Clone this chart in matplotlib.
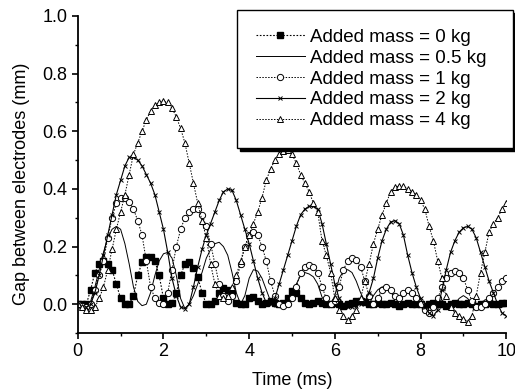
import numpy as np
import matplotlib
matplotlib.use('Agg')
import matplotlib.pyplot as plt
from matplotlib.ticker import MultipleLocator

plt.rcParams['font.family'] = ['Liberation Sans', 'DejaVu Sans']

# sampling time (ms), 0.1 ms step
time_ms = np.round(np.arange(101) * 0.1, 1)

gap_0kg = [0.0, 0.0, 0.0, 0.05, 0.11, 0.14, 0.15, 0.14, 0.12, 0.07,
           0.02, 0.0, 0.0, 0.03, 0.10, 0.145, 0.165, 0.165, 0.15, 0.10,
           0.02, 0.0, 0.005, 0.04, 0.10, 0.14, 0.145, 0.125, 0.095, 0.04,
           0.0, 0.0, 0.01, 0.04, 0.055, 0.05, 0.04, 0.005, 0.0, 0.0,
           0.02, 0.025, 0.01, 0.0, 0.005, 0.01, 0.005, 0.0, 0.005, 0.02,
           0.045, 0.04, 0.02, 0.005, 0.0, 0.005, 0.01, 0.005, 0.0, 0.0,
           0.005, 0.0, -0.005, 0.0, 0.005, 0.01, 0.012, 0.008, 0.0, 0.0,
           0.005, 0.0, 0.0, 0.005, 0.0, -0.005, 0.0, 0.005, 0.0, 0.0,
           0.0, -0.005, 0.0, 0.005, 0.0, 0.0, -0.005, 0.0, 0.005, 0.0,
           0.0, 0.005, 0.0, -0.005, 0.0, 0.0, 0.005, 0.0, 0.0, 0.005,
           0.005]

gap_05kg = [0.0, -0.01, -0.01, 0.01, 0.06, 0.12, 0.18, 0.23, 0.26, 0.27,
            0.26, 0.21, 0.14, 0.06, 0.01, -0.005, 0.0, 0.04, 0.10, 0.15,
            0.175, 0.18, 0.16, 0.10, 0.02, -0.015, 0.0, 0.03, 0.07, 0.11,
            0.16, 0.19, 0.21, 0.215, 0.20, 0.17, 0.11, 0.04, 0.0, 0.03,
            0.09, 0.12, 0.115, 0.09, 0.05, 0.01, -0.01, 0.0, 0.0, 0.0,
            0.03, 0.07, 0.10, 0.11, 0.105, 0.095, 0.07, 0.025, 0.0, 0.0,
            0.03, 0.09, 0.115, 0.12, 0.11, 0.08, 0.04, 0.01, 0.0, 0.03,
            0.05, 0.06, 0.06, 0.045, 0.02, 0.01, 0.03, 0.045, 0.04, 0.02,
            0.0, -0.01, -0.005, 0.01, 0.02, 0.015, 0.0, -0.01, 0.0, 0.02,
            0.03, 0.02, 0.0, -0.01, 0.0, 0.015, 0.02, 0.01, 0.0, -0.01,
            -0.005]

gap_1kg = [0.0, -0.005, -0.01, 0.0, 0.05, 0.10, 0.15, 0.23, 0.30, 0.35,
           0.37, 0.37, 0.355, 0.33, 0.29, 0.24, 0.15, 0.06, 0.02, 0.005,
           0.0, 0.04, 0.12, 0.20, 0.26, 0.30, 0.32, 0.33, 0.33, 0.31,
           0.27, 0.21, 0.14, 0.07, 0.03, 0.01, 0.03, 0.08, 0.14, 0.20,
           0.24, 0.25, 0.24, 0.20, 0.15, 0.08, 0.03, 0.0, -0.005, 0.0,
           0.02, 0.06, 0.11, 0.13, 0.135, 0.13, 0.11, 0.06, 0.02, 0.0,
           0.01, 0.06, 0.12, 0.15, 0.16, 0.155, 0.13, 0.08, 0.03, 0.0,
           0.02, 0.05, 0.06, 0.05, 0.03, 0.02, 0.04, 0.05, 0.04, 0.02,
           0.0, -0.02, -0.03, -0.01, 0.02, 0.06, 0.09, 0.11, 0.115, 0.11,
           0.09, 0.05, 0.01, -0.01, -0.01, 0.0, 0.02, 0.04, 0.06, 0.08,
           0.09]

gap_2kg = [0.0, -0.01, -0.01, 0.0, 0.04, 0.10, 0.17, 0.24, 0.31, 0.38,
           0.43, 0.48, 0.51, 0.51, 0.50, 0.48, 0.45, 0.42, 0.38, 0.32,
           0.26, 0.18, 0.09, 0.03, -0.01, -0.015, 0.0, 0.06, 0.13, 0.19,
           0.24, 0.28, 0.32, 0.36, 0.39, 0.40, 0.395, 0.36, 0.31, 0.26,
           0.21, 0.15, 0.09, 0.04, 0.005, 0.0, 0.02, 0.07, 0.12, 0.17,
           0.22, 0.27, 0.31, 0.33, 0.34, 0.34, 0.33, 0.28, 0.21, 0.14,
           0.07, 0.02, 0.0, -0.01, -0.01, -0.005, 0.0, 0.01, 0.04, 0.09,
           0.16, 0.22, 0.26, 0.285, 0.29, 0.28, 0.24, 0.17, 0.11, 0.06,
           0.02, -0.01, -0.03, -0.04, -0.02, 0.05, 0.12, 0.18, 0.22, 0.25,
           0.265, 0.27, 0.26, 0.23, 0.18, 0.13, 0.08, 0.04, 0.0, -0.03,
           -0.04]

gap_4kg = [0.0, -0.01, -0.02, -0.02, -0.01, 0.02, 0.06, 0.12, 0.19, 0.26,
           0.32, 0.38, 0.45, 0.52, 0.56, 0.60, 0.64, 0.67, 0.69, 0.70,
           0.705, 0.70, 0.68, 0.65, 0.61, 0.56, 0.49, 0.42, 0.35, 0.29,
           0.23, 0.14, 0.07, 0.03, 0.02, 0.03, 0.06, 0.10, 0.15, 0.20,
           0.24, 0.28, 0.32, 0.37, 0.43, 0.47, 0.50, 0.52, 0.53, 0.535,
           0.52, 0.49, 0.45, 0.42, 0.39, 0.35, 0.32, 0.22, 0.17, 0.11,
           0.02, -0.02, -0.04, -0.055, -0.04, -0.02, 0.02, 0.08, 0.14, 0.21,
           0.26, 0.31, 0.35, 0.39, 0.405, 0.41, 0.41, 0.40, 0.39, 0.38,
           0.36, 0.33, 0.27, 0.22, 0.15, 0.09, 0.03, -0.01, -0.03, -0.04,
           -0.05, -0.06, -0.04, 0.03, 0.11, 0.18, 0.25, 0.28, 0.30, 0.33,
           0.35]

labels = ['Added mass = 0 kg', 'Added mass = 0.5 kg', 'Added mass = 1 kg',
          'Added mass = 2 kg', 'Added mass = 4 kg']

fig = plt.figure(figsize=(5.15, 3.9), dpi=100)
ax = fig.add_axes([0.151, 0.146, 0.832, 0.813])

dots = (0, (1.5, 1.5))
ax.plot(time_ms, gap_0kg, linestyle=dots, color='black', linewidth=0.8,
        marker='s', markersize=4.5, markerfacecolor='black', label=labels[0])
ax.plot(time_ms, gap_05kg, linestyle='-', color='black', linewidth=0.7,
        label=labels[1])
ax.plot(time_ms, gap_1kg, linestyle=dots, color='black', linewidth=0.7,
        marker='o', markersize=4.5, markerfacecolor='white',
        markeredgewidth=0.7, label=labels[2])
ax.plot(time_ms, gap_2kg, linestyle='-', color='black', linewidth=0.8,
        marker='x', markersize=3.5, markeredgewidth=0.7, label=labels[3])
ax.plot(time_ms, gap_4kg, linestyle=dots, color='black', linewidth=0.7,
        marker='^', markersize=4.5, markerfacecolor='white',
        markeredgewidth=0.7, label=labels[4])

ax.set_xlim(0, 10)
ax.set_ylim(-0.1, 1.0)
ax.xaxis.set_major_locator(MultipleLocator(2))
ax.xaxis.set_minor_locator(MultipleLocator(1))
ax.yaxis.set_major_locator(MultipleLocator(0.2))
ax.yaxis.set_minor_locator(MultipleLocator(0.1))
ax.yaxis.set_major_formatter(plt.FuncFormatter(lambda v, p: f'{v:.1f}'))
ax.tick_params(which='major', direction='out', length=4, width=1.2, labelsize=13)
ax.tick_params(which='minor', direction='out', length=2, width=1)

ax.spines['top'].set_visible(False)
ax.spines['right'].set_visible(False)
ax.spines['left'].set_linewidth(1.3)
ax.spines['bottom'].set_linewidth(1.3)

ax.set_xlabel('Time (ms)', fontsize=13, labelpad=8)
ax.set_ylabel('Gap between electrodes (mm)', fontsize=13)
ax.yaxis.set_label_coords(-0.112, 0.47)

leg = ax.legend(loc='upper left',
                bbox_to_anchor=(237 / 515, 1 - 145 / 390, 276 / 515, 135 / 390),
                bbox_transform=fig.transFigure, mode='expand', fontsize=13.5,
                frameon=True, fancybox=False, edgecolor='black',
                handlelength=2.6, handletextpad=0.3, labelspacing=0.2,
                borderpad=1.0, borderaxespad=0,
                shadow={'color': 'black', 'alpha': 1})
leg.get_frame().set_linewidth(1.0)

fig.savefig('out.png', dpi=100)
